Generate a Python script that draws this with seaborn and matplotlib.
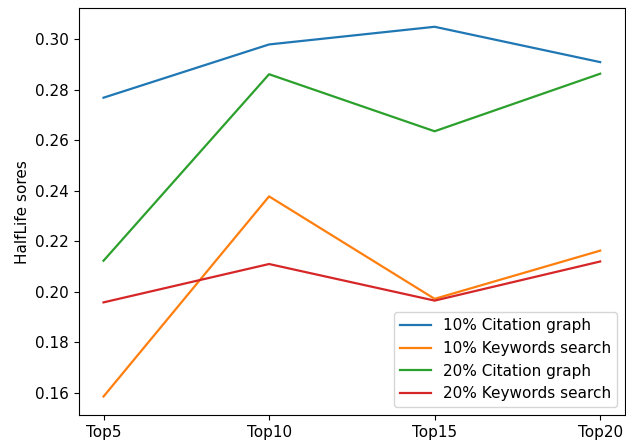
import matplotlib
matplotlib.use("Agg")
import matplotlib.pyplot as plt
import seaborn as sns
import pandas as pd

categories = ["Top5", "Top10", "Top15", "Top20"]
cit_10 = [0.2769, 0.2980, 0.3050, 0.2910]
kw_10 = [0.1585, 0.2378, 0.1972, 0.2163]
cit_20 = [0.2123, 0.2862, 0.2636, 0.2864]
kw_20 = [0.1958, 0.2110, 0.1965, 0.2120]
series_names = ["10% Citation graph", "10% Keywords search",
                "20% Citation graph", "20% Keywords search"]

rows = []
for name, vals in zip(series_names, [cit_10, kw_10, cit_20, kw_20]):
    for cat, v in zip(categories, vals):
        rows.append({"k": cat, "score": v, "method": name})
df = pd.DataFrame(rows)

plt.rcParams["font.size"] = 11

fig = plt.figure(figsize=(6.26, 4.46), dpi=100)
ax = fig.add_axes([0.1257, 0.0695, 0.8727, 0.9119])
sns.lineplot(data=df, x="k", y="score", hue="method", ax=ax,
             palette=["#1f77b4", "#ff7f0e", "#2ca02c", "#d62728"],
             sort=False, linewidth=1.6)
ax.set_xlabel("")
ax.set_ylabel("HalfLife sores")
ax.set_yticks([0.16, 0.18, 0.20, 0.22, 0.24, 0.26, 0.28, 0.30])
ax.legend(loc="lower right", title=None)
fig.savefig("out.png", dpi=100)
